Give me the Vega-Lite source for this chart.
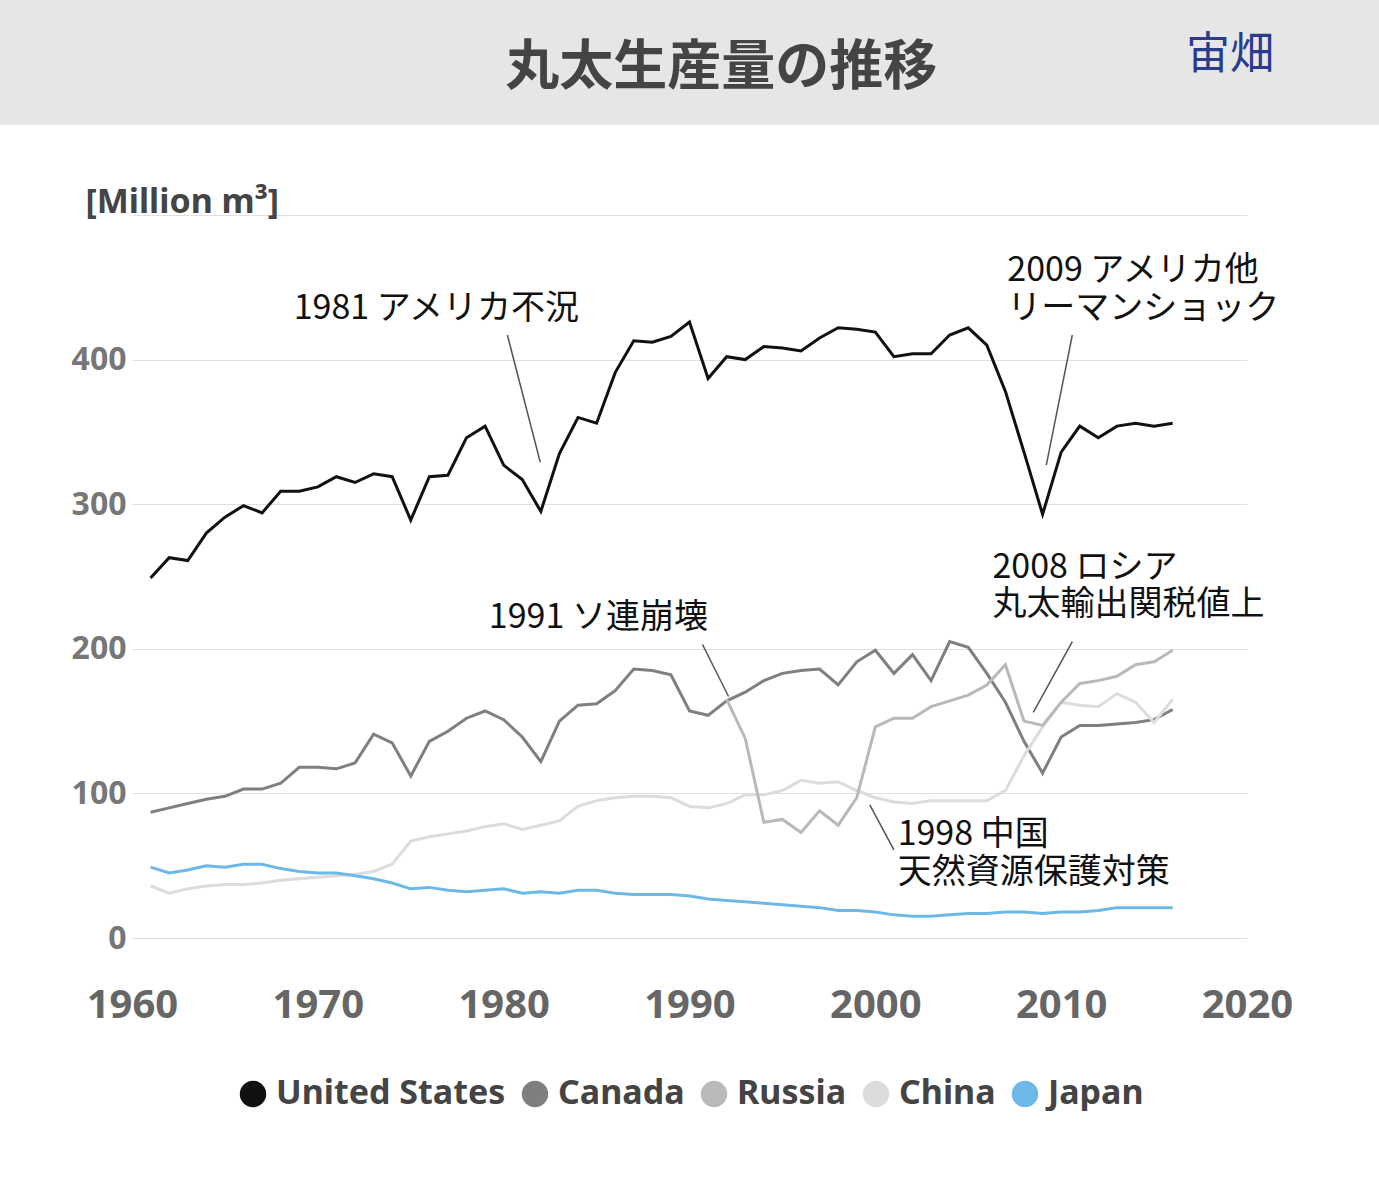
{
"$schema":"https://vega.github.io/schema/vega-lite/v6.json",
"padding":0,"spacing":90,"center":true,"bounds":"flush",
"config":{"font":"Noto Sans CJK JP","view":{"stroke":null},"legend":{"layout":{"bottom":{"anchor":"middle"}}}},
"datasets":{
"wide":[
{"year":1961,"United States":249,"Canada":87,"China":36,"Japan":49},
{"year":1962,"United States":263,"Canada":90,"China":31,"Japan":45},
{"year":1963,"United States":261,"Canada":93,"China":34,"Japan":47},
{"year":1964,"United States":280,"Canada":96,"China":36,"Japan":50},
{"year":1965,"United States":291,"Canada":98,"China":37,"Japan":49},
{"year":1966,"United States":299,"Canada":103,"China":37,"Japan":51},
{"year":1967,"United States":294,"Canada":103,"China":38,"Japan":51},
{"year":1968,"United States":309,"Canada":107,"China":40,"Japan":48},
{"year":1969,"United States":309,"Canada":118,"China":41,"Japan":46},
{"year":1970,"United States":312,"Canada":118,"China":42,"Japan":45},
{"year":1971,"United States":319,"Canada":117,"China":43,"Japan":45},
{"year":1972,"United States":315,"Canada":121,"China":44,"Japan":43},
{"year":1973,"United States":321,"Canada":141,"China":46,"Japan":41},
{"year":1974,"United States":319,"Canada":135,"China":51,"Japan":38},
{"year":1975,"United States":289,"Canada":112,"China":67,"Japan":34},
{"year":1976,"United States":319,"Canada":136,"China":70,"Japan":35},
{"year":1977,"United States":320,"Canada":143,"China":72,"Japan":33},
{"year":1978,"United States":346,"Canada":152,"China":74,"Japan":32},
{"year":1979,"United States":354,"Canada":157,"China":77,"Japan":33},
{"year":1980,"United States":327,"Canada":151,"China":79,"Japan":34},
{"year":1981,"United States":317,"Canada":139,"China":75,"Japan":31},
{"year":1982,"United States":295,"Canada":122,"China":78,"Japan":32},
{"year":1983,"United States":335,"Canada":150,"China":81,"Japan":31},
{"year":1984,"United States":360,"Canada":161,"China":91,"Japan":33},
{"year":1985,"United States":356,"Canada":162,"China":95,"Japan":33},
{"year":1986,"United States":391,"Canada":171,"China":97,"Japan":31},
{"year":1987,"United States":413,"Canada":186,"China":98,"Japan":30},
{"year":1988,"United States":412,"Canada":185,"China":98,"Japan":30},
{"year":1989,"United States":416,"Canada":182,"China":97,"Japan":30},
{"year":1990,"United States":426,"Canada":157,"China":91,"Japan":29},
{"year":1991,"United States":387,"Canada":154,"China":90,"Japan":27},
{"year":1992,"United States":402,"Canada":164,"Russia":165,"China":93,"Japan":26},
{"year":1993,"United States":400,"Canada":170,"Russia":138,"China":99,"Japan":25},
{"year":1994,"United States":409,"Canada":178,"Russia":80,"China":99,"Japan":24},
{"year":1995,"United States":408,"Canada":183,"Russia":82,"China":102,"Japan":23},
{"year":1996,"United States":406,"Canada":185,"Russia":73,"China":109,"Japan":22},
{"year":1997,"United States":415,"Canada":186,"Russia":88,"China":107,"Japan":21},
{"year":1998,"United States":422,"Canada":175,"Russia":78,"China":108,"Japan":19},
{"year":1999,"United States":421,"Canada":191,"Russia":97,"China":102,"Japan":19},
{"year":2000,"United States":419,"Canada":199,"Russia":146,"China":97,"Japan":18},
{"year":2001,"United States":402,"Canada":183,"Russia":152,"China":94,"Japan":16},
{"year":2002,"United States":404,"Canada":196,"Russia":152,"China":93,"Japan":15},
{"year":2003,"United States":404,"Canada":178,"Russia":160,"China":95,"Japan":15},
{"year":2004,"United States":417,"Canada":205,"Russia":164,"China":95,"Japan":16},
{"year":2005,"United States":422,"Canada":201,"Russia":168,"China":95,"Japan":17},
{"year":2006,"United States":410,"Canada":183,"Russia":175,"China":95,"Japan":17},
{"year":2007,"United States":378,"Canada":163,"Russia":189,"China":102,"Japan":18},
{"year":2008,"United States":336,"Canada":136,"Russia":150,"China":126,"Japan":18},
{"year":2009,"United States":293,"Canada":114,"Russia":147,"China":146,"Japan":17},
{"year":2010,"United States":336,"Canada":139,"Russia":163,"China":163,"Japan":18},
{"year":2011,"United States":354,"Canada":147,"Russia":176,"China":161,"Japan":18},
{"year":2012,"United States":346,"Canada":147,"Russia":178,"China":160,"Japan":19},
{"year":2013,"United States":354,"Canada":148,"Russia":181,"China":169,"Japan":21},
{"year":2014,"United States":356,"Canada":149,"Russia":189,"China":163,"Japan":21},
{"year":2015,"United States":354,"Canada":151,"Russia":191,"China":149,"Japan":21},
{"year":2016,"United States":356,"Canada":158,"Russia":199,"China":165,"Japan":21}
],
"notes":[
{"t":"1981 アメリカ不況","x":1968.7,"v":435},
{"t":"2009 アメリカ他","x":2007.1,"v":461},
{"t":"リーマンショック","x":2007.1,"v":435},
{"t":"1991 ソ連崩壊","x":1979.2,"v":221},
{"t":"2008 ロシア","x":2006.3,"v":256},
{"t":"丸太輸出関税値上","x":2006.3,"v":230},
{"t":"1998 中国","x":2001.2,"v":71},
{"t":"天然資源保護対策","x":2001.2,"v":45}
],
"leaders":[
{"x":1980.2,"v":417,"x2":1981.97,"v2":329},
{"x":2010.6,"v":417,"x2":2009.2,"v2":327},
{"x":1990.7,"v":203,"x2":1992.1,"v2":167},
{"x":2010.6,"v":205,"x2":2008.5,"v2":156},
{"x":2001.0,"v":61,"x2":1999.7,"v2":92}
]
},
"vconcat":[
{"width":1379,"height":125,"view":{"fill":"#e6e6e6","stroke":null},
 "data":{"values":[{"t":"丸太生産量の推移","p":0.523,"k":"title"},{"t":"宙畑","p":0.86,"k":"logo"}]},
 "layer":[
  {"transform":[{"filter":"datum.k=='title'"}],"mark":{"type":"text","fontSize":54,"fontWeight":"bold","color":"#444"},
   "encoding":{"text":{"field":"t"},"x":{"field":"p","type":"quantitative","scale":{"domain":[0,1]},"axis":null},"y":{"datum":0.45,"type":"quantitative","scale":{"domain":[0,1]},"axis":null}}},
  {"transform":[{"filter":"datum.k=='logo'"}],"mark":{"type":"text","fontSize":44,"color":"#2a3a8c","align":"left"},
   "encoding":{"text":{"field":"t"},"x":{"field":"p","type":"quantitative","scale":{"domain":[0,1]},"axis":null},"y":{"datum":0.55,"type":"quantitative","scale":{"domain":[0,1]},"axis":null}}}
 ]},
{"width":1115,"height":723,
 "layer":[
  {"data":{"name":"wide"},
   "transform":[{"fold":["United States","Canada","Russia","China","Japan"],"as":["c","v"]},{"filter":"datum.v != null"}],
   "mark":{"type":"line","strokeWidth":3},
   "encoding":{
    "x":{"field":"year","type":"quantitative","scale":{"domain":[1960,2020]},
      "axis":{"values":[1960,1970,1980,1990,2000,2010,2020],"format":"d","grid":false,"domain":false,"ticks":false,"labelFlush":false,"labelFontSize":40,"labelFontWeight":"bold","labelColor":"#666","labelPadding":47,"title":null,"labelFont":"Noto Sans"}},
    "y":{"field":"v","type":"quantitative","scale":{"domain":[0,500]},
      "axis":{"values":[0,100,200,300,400,500],"labelExpr":"datum.value==500?'':datum.label","domain":false,"ticks":false,"gridColor":"#e0e0e0","labelFontSize":32,"labelFontWeight":"bold","labelColor":"#777","labelPadding":6,"labelFont":"Noto Sans",
        "title":"[Million m³]","titleAngle":0,"titleX":-47,"titleY":4,"titleAlign":"left","titleBaseline":"bottom","titleFontSize":34,"titleFontWeight":"bold","titleColor":"#444","titleFont":"Noto Sans"}},
    "color":{"field":"c","type":"nominal","sort":["United States","Canada","Russia","China","Japan"],
      "scale":{"domain":["United States","Canada","Russia","China","Japan"],"range":["#111111","#7f7f7f","#b9b9b9","#dcdcdc","#6cb8e6"]},
      "legend":{"orient":"bottom","direction":"horizontal","title":null,"symbolType":"circle","symbolSize":700,"labelFontSize":34,"labelFontWeight":"bold","labelColor":"#444","labelFont":"Noto Sans","labelLimit":0,"columnPadding":12,"labelOffset":6,"offset":52,
        "encode":{"symbols":{"update":{"fill":{"scale":"color","field":"value"},"strokeWidth":{"value":0}}}}}}
   }},
  {"data":{"name":"leaders"},"mark":{"type":"rule","color":"#555","strokeWidth":1.5},
   "encoding":{"x":{"field":"x","type":"quantitative"},"y":{"field":"v","type":"quantitative"},"x2":{"field":"x2"},"y2":{"field":"v2"}}},
  {"data":{"name":"notes"},"mark":{"type":"text","align":"left","baseline":"middle","fontSize":34,"color":"#111"},
   "encoding":{"x":{"field":"x","type":"quantitative"},"y":{"field":"v","type":"quantitative"},"text":{"field":"t"}}}
 ]}
]}
